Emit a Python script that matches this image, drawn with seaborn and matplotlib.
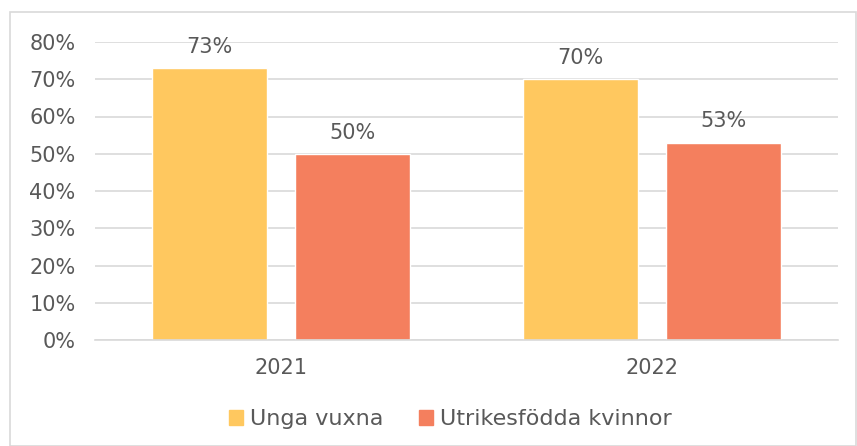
import matplotlib
matplotlib.use("Agg")
import matplotlib.pyplot as plt
import seaborn as sns
import pandas as pd
from matplotlib.patches import Rectangle

years = ["2021", "2022"]
series = ["Unga vuxna", "Utrikesfödda kvinnor"]
unga_vuxna = [0.73, 0.70]
utrikesfodda = [0.50, 0.53]
ytick_vals = [0, 0.1, 0.2, 0.3, 0.4, 0.5, 0.6, 0.7, 0.8]
ytick_labels = ["0%", "10%", "20%", "30%", "40%", "50%", "60%", "70%", "80%"]

df = pd.DataFrame({
    "year": years * 2,
    "series": [series[0]] * 2 + [series[1]] * 2,
    "value": unga_vuxna + utrikesfodda,
})

sns.set_theme(style="white")
plt.rcParams['font.family'] = ['DejaVu Sans']
txt = "#595959"
colors = {series[0]: "#FFC85F", series[1]: "#F47F5E"}

fig = plt.figure(figsize=(8.57, 4.46), dpi=100)
fig.patches.append(Rectangle((10/857, 0), 1 - 10/857 - 0.001, 1 - 12/446, transform=fig.transFigure,
                             fill=False, edgecolor="#D9D9D9", linewidth=1.2))
ax = fig.add_axes([95/857, 1 - 340/446, (838 - 95)/857, (340 - 42)/446])

sns.barplot(data=df, x="year", y="value", hue="series", palette=colors,
            width=0.77, gap=0.195, ax=ax, legend=True, saturation=1)

ax.set_ylim(0, 0.8)
ax.set_yticks(ytick_vals)
ax.set_yticklabels(ytick_labels)
ax.set_xlabel("")
ax.set_ylabel("")
ax.yaxis.grid(True, color="#D9D9D9", linewidth=1.2)
ax.set_axisbelow(True)
for s in ["top", "right", "left"]:
    ax.spines[s].set_visible(False)
ax.spines["bottom"].set_color("#D9D9D9")
ax.spines["bottom"].set_linewidth(1.2)
ax.tick_params(axis="y", length=0, pad=14, labelsize=15, labelcolor=txt)
ax.tick_params(axis="x", length=0, pad=13, labelsize=15, labelcolor=txt)

for c in ax.containers:
    ax.bar_label(c, labels=[f"{v*100:.0f}%" for v in c.datavalues], padding=8,
                 fontsize=15, color=txt)

ax.get_legend().remove()
handles = [Rectangle((0, 0), 1, 1, color=colors[s]) for s in series]
fig.legend(handles, series, loc="center", bbox_to_anchor=(450/857, 1 - 419/446), ncol=2,
           frameon=False, fontsize=16, labelcolor=txt, handlelength=0.65, handleheight=0.65,
           handletextpad=0.3, columnspacing=1.6)

fig.savefig("out.png", dpi=100)
